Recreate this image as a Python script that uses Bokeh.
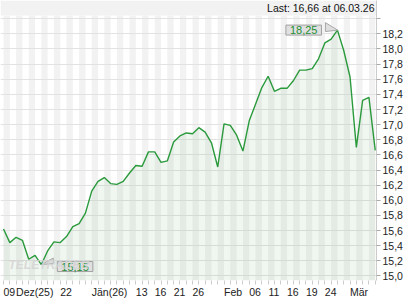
from bokeh.plotting import figure
from bokeh.models import FixedTicker, CustomJSTickFormatter, Label, Range1d
from bokeh.embed import file_html
from bokeh.resources import INLINE

# ---- data ----
values = [15.62, 15.44, 15.51, 15.47, 15.22, 15.27, 15.15, 15.33, 15.45, 15.44,
          15.52, 15.65, 15.69, 15.83, 16.12, 16.25, 16.30, 16.22, 16.21, 16.25,
          16.36, 16.46, 16.45, 16.64, 16.64, 16.50, 16.52, 16.77, 16.85, 16.89,
          16.88, 16.96, 16.90, 16.76, 16.44, 17.01, 16.99, 16.86, 16.65, 17.05,
          17.27, 17.49, 17.64, 17.44, 17.48, 17.48, 17.58, 17.72, 17.72, 17.74,
          17.87, 18.08, 18.13, 18.25, 17.98, 17.63, 16.70, 17.32, 17.36, 16.66]
idx = list(range(len(values)))
x_label_idx = [0, 2, 9, 14, 21, 24, 27, 30, 35, 39, 42, 45, 48, 51, 55]
x_label_txt = ["09", "Dez(25)", "22", "Jän(26)", "13", "16", "21", "26",
               "Feb", "06", "11", "16", "19", "24", "Mär"]
y_ticks = [15.0, 15.2, 15.4, 15.6, 15.8, 16.0, 16.2, 16.4, 16.6, 16.8,
           17.0, 17.2, 17.4, 17.6, 17.8, 18.0, 18.2, 18.4]
last_date = "06.03.26"

# ---- layout constants ----
FONT = "Liberation Sans"
FS = 10.5
PXI = 6.3      # px per index
PXU = 75.9     # px per unit
x0, x1 = -0.48, 59.2
y_bot = 14.939
y_top = y_bot + 281 / PXU
band = y_top - 15 / PXU

def fmt(v):
    return f"{v:.2f}".replace(".", ",")

# approximate Arial widths (em) to left-align the date labels on their day
W = {"D": .722, "e": .556, "z": .5, "(": .333, ")": .333, "J": .5, "ä": .556,
     "n": .556, "F": .611, "b": .556, "M": .833, "r": .333}
def text_w(s):
    return sum(W.get(c, .556) for c in s) * FS

centers = [i + text_w(t) / 2 / PXI for i, t in zip(x_label_idx, x_label_txt)]

p = figure(width=420, height=300, output_backend="svg", toolbar_location=None,
           x_range=Range1d(x0, x1), y_range=Range1d(y_bot, y_top),
           y_axis_location="right", min_border_left=0, min_border_top=0,
           min_border_right=44, min_border_bottom=19)
p.outline_line_color = None
p.background_fill_color = "white"
p.border_fill_color = "white"

# day stripes
stripe_l = [i for i in idx if i % 2 == 0]
stripe_r = [i + 1 for i in stripe_l]
p.quad(left=stripe_l, right=stripe_r, bottom=y_bot, top=band,
       fill_color="#f2f2f2", line_color=None, level="image")
# header band
p.quad(left=[x0], right=[x1], bottom=[band], top=[y_top],
       fill_color="#f2f2f2", line_color=None, level="image")

# area + line
p.varea(x=idx, y1=y_bot, y2=values, fill_color="#4f9a4f", fill_alpha=0.085)
p.line(idx, values, line_color="#2a9a3c", line_width=1.4)

# axes
p.xgrid.visible = False
yt = FixedTicker(ticks=y_ticks)
p.yaxis.ticker = yt
p.ygrid.ticker = yt
p.ygrid.grid_line_color = "#e2e2e2"
p.yaxis.formatter = CustomJSTickFormatter(
    code="return tick > 18.3 ? '' : tick.toFixed(1).replace('.', ',');")
p.yaxis.major_tick_out = 4
p.yaxis.major_tick_in = 0
p.yaxis.major_tick_line_color = "#aaaaaa"
p.yaxis.minor_tick_line_color = None
p.yaxis.axis_line_color = "#cccccc"
p.yaxis.major_label_standoff = 2
p.yaxis.major_label_text_font = FONT
p.yaxis.major_label_text_font_size = f"{FS}px"
p.yaxis.major_label_text_color = "#222222"

p.xaxis.ticker = FixedTicker(ticks=centers, minor_ticks=idx)
p.xaxis.major_label_overrides = {c: t for c, t in zip(centers, x_label_txt)}
p.xaxis.major_tick_line_color = None
p.xaxis.major_tick_out = 4
p.xaxis.major_tick_in = 0
p.xaxis.minor_tick_out = 4
p.xaxis.minor_tick_in = 0
p.xaxis.minor_tick_line_color = "#cccccc"
p.xaxis.axis_line_color = None
p.xaxis.major_label_standoff = 1
p.xaxis.major_label_text_font = FONT
p.xaxis.major_label_text_font_size = f"{FS}px"
p.xaxis.major_label_text_color = "#222222"

# callouts
imax = max(idx, key=lambda i: values[i])
imin = min(idx, key=lambda i: values[i])
vmax, vmin = values[imax], values[imin]

p.patch([imax, imax - 12 / PXI, imax - 12 / PXI],
        [vmax, vmax + 7.5 / PXU, vmax - 1.5 / PXU],
        fill_color="#dedede", line_color="#a8a8a8", line_width=1)
p.patch([imin, imin + 12 / PXI, imin + 12 / PXI],
        [vmin, vmin + 6.5 / PXU, vmin + 1 / PXU],
        fill_color="#dedede", line_color="#a8a8a8", line_width=1)

for i, v, align, off, yoff in [(imax, vmax, "right", -16, 0),
                               (imin, vmin, "left", 16, -2)]:
    p.add_layout(Label(x=i, y=v, text=fmt(v), text_align=align,
                       text_baseline="middle", x_offset=off, y_offset=yoff,
                       text_font=FONT, text_font_size="11px", text_color="#1f8f35",
                       background_fill_color="#e0e0e0", border_line_color="#a0a0a0",
                       padding=(4, 1)))

# watermark (drawn over the callout, as in the original)
p.add_layout(Label(x=(8 - 3) / PXI, y=15.0 + (276.4 - 273) / PXU, text="TELETRADER",
                   text_baseline="bottom", text_font=FONT, text_font_size="12px",
                   text_font_style="bold italic", text_color="#d4d4d4", text_alpha=0.85))

# header text
p.add_layout(Label(x=x1, y=y_top - 7.5 / PXU, text=f"Last: {fmt(values[-1])} at {last_date}",
                   text_align="right", text_baseline="middle", x_offset=-2,
                   text_font=FONT, text_font_size=f"{FS}px", text_color="#111111"))

open("out.html", "w").write(file_html(p, INLINE))
